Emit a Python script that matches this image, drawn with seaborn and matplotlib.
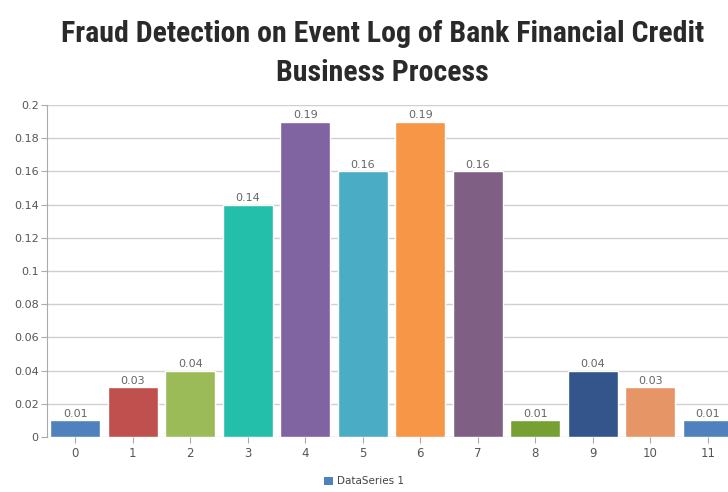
import matplotlib
matplotlib.use("Agg")
import matplotlib.pyplot as plt
import seaborn as sns
import pandas as pd
from matplotlib.patches import Patch
from matplotlib import font_manager

categories = ["0", "1", "2", "3", "4", "5", "6", "7", "8", "9", "10", "11"]
values = [0.01, 0.03, 0.04, 0.14, 0.19, 0.16, 0.19, 0.16, 0.01, 0.04, 0.03, 0.01]
colors = ["#4F81BC", "#C0504E", "#9BBB58", "#23BFAA", "#8064A1", "#4AACC5",
          "#F79647", "#7F6084", "#77A033", "#33558B", "#E59566", "#4F81BC"]
yticks = [0, 0.02, 0.04, 0.06, 0.08, 0.1, 0.12, 0.14, 0.16, 0.18, 0.2]
ytick_labels = ["0", "0.02", "0.04", "0.06", "0.08", "0.1", "0.12", "0.14", "0.16", "0.18", "0.2"]
title = "Fraud Detection on Event Log of Bank Financial Credit\nBusiness Process"
legend_label = "DataSeries 1"

sns.set_style("white")
plt.rcParams['font.family'] = ['DejaVu Sans']

names = {f.name for f in font_manager.fontManager.ttflist}
title_family = None
for cand in ["Liberation Sans Narrow", "DejaVu Sans Condensed", "Roboto Condensed",
             "Open Sans Condensed", "Noto Sans"]:
    if cand in names:
        title_family = cand
        break
if title_family is None:
    title_family = "DejaVu Sans"

df = pd.DataFrame({"x": categories, "y": values})

fig = plt.figure(figsize=(7.28, 4.92), dpi=100)
ax = fig.add_axes([0.0646, 0.1118, 0.9354, 0.6748])

sns.barplot(data=df, x="x", y="y", hue="x", palette=colors, legend=False,
            width=0.87, ax=ax, saturation=1, order=categories, hue_order=categories)

ax.set_ylim(0, 0.2)
ax.set_xlim(-0.49, 11.35)
ax.set_yticks(yticks)
ax.set_yticklabels(ytick_labels)
ax.set_xlabel("")
ax.set_ylabel("")
ax.yaxis.grid(True, color="#d0d0d0", linewidth=1.0)
ax.set_axisbelow(True)
for s in ["top", "right", "bottom"]:
    ax.spines[s].set_visible(False)
ax.spines["left"].set_color("#aaaaaa")
ax.tick_params(axis="y", length=4, color="#aaaaaa", labelsize=8, labelcolor="#555555", pad=2, left=True)
ax.tick_params(axis="x", length=4, color="#aaaaaa", labelsize=8.5, labelcolor="#555555", pad=3, bottom=True)

for c in ax.containers:
    ax.bar_label(c, labels=[f"{v:g}" for v in c.datavalues], fontsize=8,
                 color="#666666", padding=1)

fig.text(0.525, 0.892, title, ha="center", va="center", fontsize=21.5,
         fontweight="bold", fontstretch="condensed",
         family=[title_family, "DejaVu Sans"],
         color="#2a2a2a", linespacing=1.5)

fig.legend(handles=[Patch(facecolor=colors[0], edgecolor="none")],
           labels=[legend_label], loc="center", bbox_to_anchor=(0.5, 0.022),
           frameon=False, fontsize=7.5, handlelength=0.8, handleheight=0.8,
           handletextpad=0.4, labelcolor="#444444")

fig.savefig("out.png", dpi=100)
